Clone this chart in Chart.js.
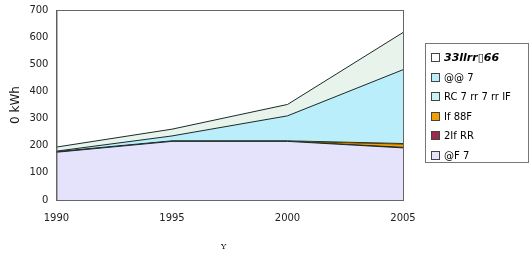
<!DOCTYPE html>
<html>
<head>
<meta charset="utf-8">
<script src="https://cdn.jsdelivr.net/npm/chart.js@4"></script>
<style>
  body { margin: 0; background: #fff; font-family: "DejaVu Sans", sans-serif; }
  #wrap { position: relative; width: 532px; height: 264px; }
  #legend { position: absolute; left: 425px; top: 43px; width: 104px; height: 120px;
    border: 1px solid #777; box-sizing: border-box; padding: 4px 0 0 5px; font-size: 10px; }
  #legend div { height: 19.5px; display: flex; align-items: center; white-space: nowrap; }
  #legend span.box { width: 7px; height: 7px; border: 1px solid #444; margin-right: 4px; display: inline-block; }
  #xt { position: absolute; left: 221px; top: 242px; font-family: "DejaVu Serif", serif; font-size: 8px; }
</style>
</head>
<body>
<div id="wrap">
  <canvas id="chart" width="532" height="264"></canvas>
  <div id="legend"></div>
  <div id="xt">Y</div>
</div>
<script>
const years = ['1990', '1995', '2000', '2005'];
const baseLoad = [176, 216, 216, 192];
const maroonPart = [0, 0, 0, 2];
const orangePart = [0, 0, 0, 12];
const cyanLower = [2, 2, 2, 2];
const cyanUpper = [2, 18, 92, 272];
const topPart = [15, 25, 42, 137];
const legendNames = ['33llrr\u25AF66', '@@ 7', 'RC 7 rr 7 rr IF', 'If 88F', '2If RR', '@F 7'];
const yTicks = [0, 100, 200, 300, 400, 500, 600, 700];

// stack order bottom -> top
const series = [
  { data: baseLoad, color: '#e4e3fb' },
  { data: maroonPart, color: '#9c2b4c' },
  { data: orangePart, color: '#f0a000' },
  { data: cyanLower, color: '#c7f3f7' },
  { data: cyanUpper, color: '#b9eefa' },
  { data: topPart, color: '#e8f3ec' }
];

const legendColors = ['#ffffff', '#b9eefa', '#c7f3f7', '#f0a000', '#9c2b4c', '#e4e3fb'];
const legendEl = document.getElementById('legend');
legendNames.forEach((name, i) => {
  const row = document.createElement('div');
  const box = document.createElement('span');
  box.className = 'box';
  box.style.background = legendColors[i];
  row.appendChild(box);
  const t = document.createElement('span');
  t.textContent = name;
  if (i === 0) { t.style.fontWeight = 'bold'; t.style.fontStyle = 'italic'; t.style.fontSize = '11px'; }
  row.appendChild(t);
  legendEl.appendChild(row);
});

new Chart(document.getElementById('chart'), {
  type: 'line',
  data: {
    labels: years,
    datasets: series.map((s, i) => ({
      data: s.data,
      backgroundColor: s.color,
      borderColor: i === 2 ? '#5a3a00' : '#1a2a2a',
      borderWidth: 1,
      fill: i === 0 ? 'origin' : '-1',
      pointRadius: 0,
      tension: 0
    }))
  },
  options: {
    responsive: false,
    animation: false,
    layout: { padding: { left: 7, right: 129, top: 5, bottom: 0 } },
    plugins: { legend: { display: false }, tooltip: { enabled: false } },
    scales: {
      x: {
        offset: false,
        grid: { display: false, drawTicks: false },
        border: { color: '#555', width: 1.5 },
        ticks: { color: '#222', font: { size: 10, family: 'DejaVu Sans' }, padding: 12, maxRotation: 0 },
        title: { display: true, text: ' ', font: { size: 10 }, padding: { top: 10, bottom: 6 } }
      },
      y: {
        stacked: true,
        min: 0,
        max: 700,
        afterBuildTicks: axis => { axis.ticks = yTicks.map(v => ({ value: v })); },
        grid: { display: false, drawTicks: true, tickLength: 4, tickColor: '#555' },
        border: { color: '#555', width: 1 },
        ticks: { color: '#222', font: { size: 10, family: 'DejaVu Sans' }, padding: 4 },
        title: { display: true, text: '0 kWh', color: '#111', font: { size: 12, family: 'DejaVu Sans' }, padding: 2 }
      }
    }
  },
  plugins: [{
    id: 'frame',
    afterDraw(chart) {
      const { ctx, chartArea: a } = chart;
      ctx.save();
      ctx.strokeStyle = '#666';
      ctx.lineWidth = 1;
      ctx.strokeRect(a.left + 0.5, a.top + 0.5, a.right - a.left, a.bottom - a.top);
      ctx.restore();
    }
  }]
});
</script>
</body>
</html>
